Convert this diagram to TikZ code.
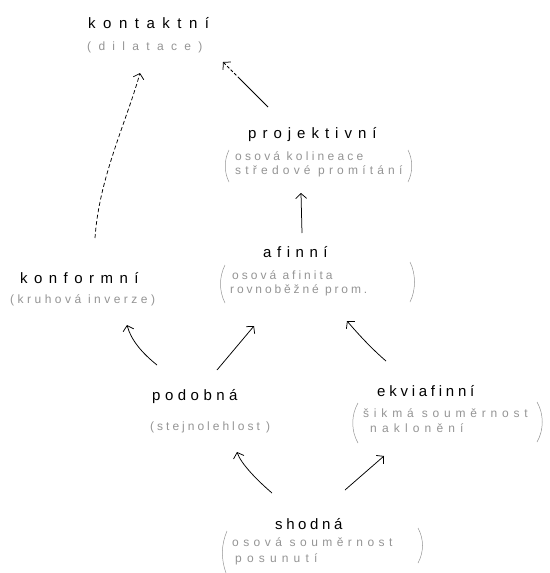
\documentclass[tikz,border=0pt]{standalone}
\usepackage{fontspec}
\setmainfont{Liberation Sans}
\usetikzlibrary{arrows.meta}
\newcommand{\lsp}[1]{\addfontfeature{LetterSpace=#1}}
\tikzset{
  title/.style={anchor=base west, inner sep=0pt, text=black, font=\fontsize{15}{18}\selectfont},
  subtitle/.style={anchor=base west, inner sep=0pt, text=black!42, font=\fontsize{12}{14}\selectfont},
  conn/.style={line width=0.75pt, -{Straight Barb[length=5pt,width=11pt,line width=0.75pt]}},
  connrev/.style={line width=0.75pt, {Straight Barb[length=5pt,width=11pt,line width=0.75pt]}-},
  paren/.style={black!42, line width=0.5pt}
}
\begin{document}
\begin{tikzpicture}[x=1pt,y=-1pt]
\useasboundingbox (0,0) rectangle (549,573);
% titles and descriptions
\node[title] (kont) at (88,28) {\lsp{50}kontaktní};
\node[subtitle] (kontS) at (87,50) {\lsp{61}(dilatace)};
\node[title] (proj) at (248,138) {\lsp{40}projektivní};
\node[subtitle] (projA) at (235,160) {\lsp{27}osová kolineace};
\node[subtitle] (projB) at (235,174) {\lsp{35}středové promítání};
\node[title] (konf) at (20,283) {\lsp{43}konformní};
\node[subtitle] (konfS) at (10,303) {\lsp{29}(kruhová inverze)};
\node[title] (afin) at (263,257) {\lsp{37}afinní};
\node[subtitle] (afinA) at (232,279) {\lsp{25}osová afinita};
\node[subtitle] (afinB) at (230,293) {\lsp{24}rovnoběžné prom.};
\node[title] (podo) at (152,400) {\lsp{30}podobná};
\node[subtitle] (podoS) at (150,430) {\lsp{25}(stejnolehlost )};
\node[title] (ekvi) at (377,396) {\lsp{25}ekviafinní};
\node[subtitle] (ekviA) at (363,417) {\lsp{40}šikmá souměrnost};
\node[subtitle] (ekviB) at (370,432) {\lsp{43}naklonění};
\node[title] (shod) at (275,529) {\lsp{24}shodná};
\node[subtitle] (shodA) at (232,546) {\lsp{37}osová souměrnost};
\node[subtitle] (shodB) at (235,562) {\lsp{43}posunutí};
% tall parentheses
\draw[paren] (229,150) .. controls (224,160) and (224,172) .. (229,182);
\draw[paren] (408,150) .. controls (413,160) and (413,172) .. (408,182);
\draw[paren] (225,265) .. controls (219,277) and (219,291) .. (225,303);
\draw[paren] (410,262) .. controls (416,274) and (416,290) .. (410,302);
\draw[paren] (358,403) .. controls (351,415) and (351,431) .. (358,443);
\draw[paren] (537,402) .. controls (544,414) and (544,430) .. (537,442);
\draw[paren] (227,531) .. controls (221,545) and (221,559) .. (226,573);
\draw[paren] (418,528) .. controls (424,539) and (424,552) .. (418,563);
% connectors
\draw[conn, dash pattern=on 4pt off 2.5pt] ([shift={(75,-45)}]konf.base west) .. controls +(4,-60) and +(-14,50) .. ([shift={(52,45)}]kont.base west);
\draw[connrev, dash pattern=on 3pt off 2pt on 3pt off 2pt on 3pt off 2pt on 3pt off 2pt on 80pt off 1pt] ([shift={(135,34)}]kont.base west) -- ([shift={(20,-31)}]proj.base west);
\draw[conn] ([shift={(39,-24)}]afin.base west) -- ([shift={(53,55)}]proj.base west);
\draw[conn] ([shift={(5,-35)}]podo.base west) .. controls +(-15,-12) and +(4,15) .. ([shift={(107,42)}]konf.base west);
\draw[conn] ([shift={(65,-30)}]podo.base west) -- ([shift={(-9,69)}]afin.base west);
\draw[conn] ([shift={(9,-35)}]ekvi.base west) .. controls +(-14,-12) and +(12,14) .. ([shift={(84,64)}]afin.base west);
\draw[conn] ([shift={(-3,-36)}]shod.base west) .. controls +(-14,-12) and +(4,12) .. ([shift={(85,52)}]podo.base west);
\draw[conn] ([shift={(70,-39)}]shod.base west) -- ([shift={(7,60)}]ekvi.base west);
\end{tikzpicture}
\end{document}
